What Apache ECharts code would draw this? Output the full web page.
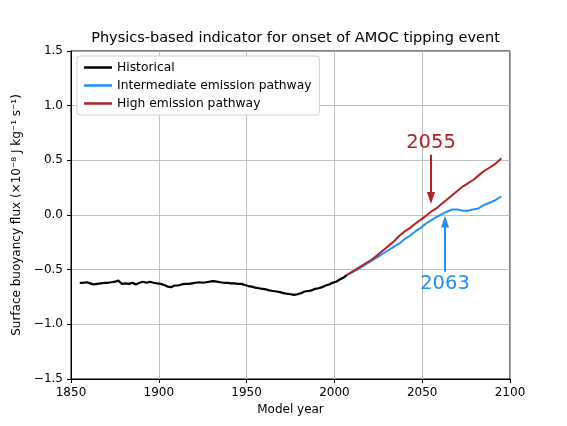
<!DOCTYPE html>
<html>
<head>
<meta charset="utf-8">
<script src="https://cdn.jsdelivr.net/npm/echarts@6/dist/echarts.min.js"></script>
<style>
  html, body { margin: 0; padding: 0; background: #fff; }
  #chart { width: 567px; height: 426px; }
</style>
</head>
<body>
<div id="chart"></div>
<script>
// historical run (black)
const histYears = [
  1855, 1857, 1859, 1861, 1863, 1865, 1867, 1869, 1871, 1873, 1875, 1877, 1879,
  1881, 1883, 1885, 1887, 1889, 1891, 1893, 1895, 1897, 1899, 1901, 1903, 1905,
  1907, 1909, 1911, 1913, 1915, 1917, 1919, 1921, 1923, 1925, 1927, 1929, 1931,
  1933, 1935, 1937, 1939, 1941, 1943, 1945, 1947, 1949, 1951, 1953, 1955, 1957,
  1959, 1961, 1963, 1965, 1967, 1969, 1971, 1973, 1975, 1977, 1979, 1981, 1983,
  1985, 1987, 1989, 1991, 1993, 1995, 1997, 1999, 2001, 2003, 2005, 2007
]
const histValues = [
  -0.62, -0.62, -0.615, -0.625, -0.635, -0.63, -0.625, -0.62, -0.62, -0.615, -0.61, -0.60, -0.63,
  -0.625, -0.63, -0.62, -0.635, -0.62, -0.61, -0.62, -0.61, -0.62, -0.625, -0.63, -0.64, -0.655,
  -0.66, -0.645, -0.645, -0.635, -0.63, -0.63, -0.625, -0.62, -0.615, -0.62, -0.615, -0.61, -0.605,
  -0.61, -0.615, -0.62, -0.62, -0.625, -0.625, -0.63, -0.63, -0.64, -0.65, -0.655, -0.665, -0.67,
  -0.675, -0.68, -0.69, -0.695, -0.70, -0.705, -0.715, -0.72, -0.725, -0.73, -0.725, -0.715, -0.70,
  -0.695, -0.69, -0.675, -0.67, -0.66, -0.645, -0.635, -0.62, -0.61, -0.59, -0.575, -0.55
]

// scenario runs
const scenYears = [
  2007, 2010, 2013, 2016, 2019, 2022, 2025, 2028, 2031, 2034, 2037, 2040, 2043, 2046, 2049, 2052,
  2055, 2058, 2061, 2064, 2067, 2070, 2073, 2076, 2079, 2082, 2085, 2088, 2091, 2094, 2095
]
const interValues = [
  -0.55, -0.525, -0.50, -0.47, -0.44, -0.41, -0.38, -0.35, -0.32, -0.29, -0.26, -0.22, -0.19, -0.15, -0.12, -0.08,
  -0.05, -0.02, 0.005, 0.03, 0.05, 0.05, 0.04, 0.04, 0.05, 0.06, 0.09, 0.11, 0.13, 0.16, 0.17
]
const highValues = [
  -0.55, -0.52, -0.49, -0.46, -0.43, -0.40, -0.36, -0.32, -0.28, -0.24, -0.19, -0.15, -0.12, -0.08, -0.045, -0.01,
  0.03, 0.06, 0.10, 0.14, 0.18, 0.22, 0.26, 0.29, 0.32, 0.36, 0.40, 0.43, 0.46, 0.50, 0.52
]

// onset markers: year, arrow start value, arrow tip value
const highOnset = { year: 2055, from: 0.55, to: 0.155 }
const interOnset = { year: 2063, from: -0.52, to: -0.06 }

const yTicks = [-1.5, -1.0, -0.5, 0.0, 0.5, 1.0, 1.5]
const xTicks = [1850, 1900, 1950, 2000, 2050, 2100]

const FONT = 'DejaVu Sans'
const BLUE = '#1e90ff'
const RED = '#b22222'

function pairs(xs, ys) {
  return xs.map((x, i) => [x, ys[i]])
}

function onsetLine(onset, color) {
  return {
    silent: true,
    animation: false,
    symbol: ['none', 'triangle'],
    symbolSize: [8, 12],
    lineStyle: { color: color, width: 2, type: 'solid' },
    label: {
      show: true,
      position: 'start',
      distance: 2,
      formatter: String(onset.year),
      color: color,
      fontFamily: FONT,
      fontSize: 19.5
    },
    data: [[{ coord: [onset.year, onset.from] }, { coord: [onset.year, onset.to] }]]
  }
}

const chart = echarts.init(document.getElementById('chart'))
chart.setOption({
  animation: false,
  backgroundColor: '#fff',
  title: {
    text: 'Physics-based indicator for onset of AMOC tipping event',
    left: 290.5,
    textAlign: 'center',
    top: 26,
    textStyle: { fontFamily: FONT, fontSize: 14.5, fontWeight: 'normal', color: '#000' }
  },
  legend: {
    orient: 'vertical',
    left: 77,
    top: 56,
    padding: [5, 8, 5, 7],
    itemGap: 5,
    itemWidth: 28,
    itemHeight: 2.5,
    icon: 'rect',
    backgroundColor: '#fff',
    borderColor: '#d0d0d0',
    borderWidth: 1,
    borderRadius: 3,
    textStyle: { fontFamily: FONT, fontSize: 12.3, color: '#000', lineHeight: 13 },
    data: ['Historical', 'Intermediate emission pathway', 'High emission pathway']
  },
  grid: {
    left: 71, right: 57, top: 51, bottom: 47,
    show: true, borderColor: '#000', borderWidth: 1, backgroundColor: 'transparent'
  },
  xAxis: {
    type: 'value',
    min: xTicks[0],
    max: xTicks[xTicks.length - 1],
    interval: 50,
    name: 'Model year',
    nameLocation: 'middle',
    nameGap: 25,
    nameTextStyle: { fontFamily: FONT, fontSize: 12, color: '#000' },
    axisLine: { show: true, onZero: false, lineStyle: { color: '#000', width: 1 } },
    axisTick: { show: true, length: 4, lineStyle: { color: '#000' } },
    axisLabel: { fontFamily: FONT, fontSize: 12, color: '#000', margin: 8, formatter: v => String(v) },
    splitLine: { show: true, lineStyle: { color: '#b0b0b0', width: 0.8 } }
  },
  yAxis: {
    type: 'value',
    min: yTicks[0],
    max: yTicks[yTicks.length - 1],
    interval: 0.5,
    name: 'Surface buoyancy flux (×10⁻⁸ J kg⁻¹ s⁻¹)',
    nameLocation: 'middle',
    nameGap: 47,
    nameTextStyle: { fontFamily: FONT, fontSize: 12, color: '#000' },
    axisLine: { show: true, onZero: false, lineStyle: { color: '#000', width: 1 } },
    axisTick: { show: true, length: 4, lineStyle: { color: '#000' } },
    axisLabel: {
      fontFamily: FONT, fontSize: 12, color: '#000', margin: 8,
      formatter: v => (Math.abs(v) < 1e-9 ? '0.0' : v.toFixed(1).replace('-', '\u2212'))
    },
    splitLine: { show: true, lineStyle: { color: '#b0b0b0', width: 0.8 } }
  },
  series: [
    {
      name: 'Historical',
      type: 'line',
      showSymbol: false,
      color: '#000',
      lineStyle: { width: 2.2, color: '#000' },
      data: pairs(histYears, histValues),
      z: 4
    },
    {
      name: 'Intermediate emission pathway',
      type: 'line',
      showSymbol: false,
      color: BLUE,
      lineStyle: { width: 2, color: BLUE },
      data: pairs(scenYears, interValues),
      markLine: onsetLine(interOnset, BLUE),
      z: 2
    },
    {
      name: 'High emission pathway',
      type: 'line',
      showSymbol: false,
      color: RED,
      lineStyle: { width: 2, color: RED },
      data: pairs(scenYears, highValues),
      markLine: onsetLine(highOnset, RED),
      z: 3
    }
  ]
})
</script>
</body>
</html>
